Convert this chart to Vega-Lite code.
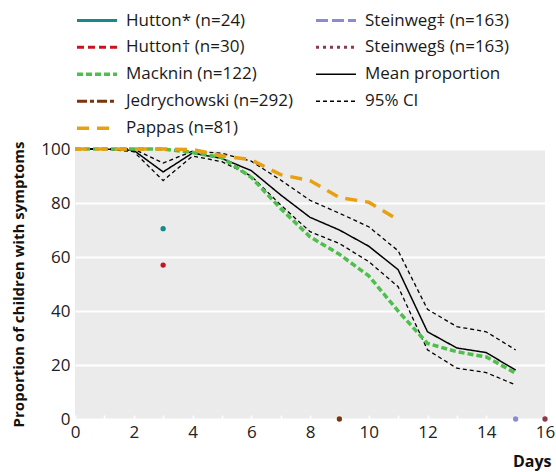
{
  "$schema": "https://vega.github.io/schema/vega-lite/v6.json",
  "width": 470,
  "height": 270,
  "autosize": "none",
  "padding": {"left": 75, "top": 149, "right": 11, "bottom": 53},
  "background": "white",
  "config": {
    "font": "Open Sans",
    "view": {"fill": "#ebebeb", "stroke": null},
    "axis": {"labelFont": "Open Sans", "titleFont": "Open Sans", "labelColor": "#222", "titleColor": "#111"}
  },
  "datasets": {
    "lines": [
      {"s": "Mean proportion", "g": "m", "d": 0, "v": 100},
      {"s": "Mean proportion", "g": "m", "d": 1, "v": 100},
      {"s": "Mean proportion", "g": "m", "d": 2, "v": 99.5},
      {"s": "Mean proportion", "g": "m", "d": 3, "v": 91.5},
      {"s": "Mean proportion", "g": "m", "d": 4, "v": 98.5},
      {"s": "Mean proportion", "g": "m", "d": 5, "v": 96.5},
      {"s": "Mean proportion", "g": "m", "d": 6, "v": 92},
      {"s": "Mean proportion", "g": "m", "d": 7, "v": 83},
      {"s": "Mean proportion", "g": "m", "d": 8, "v": 74.7},
      {"s": "Mean proportion", "g": "m", "d": 9, "v": 70},
      {"s": "Mean proportion", "g": "m", "d": 10, "v": 64},
      {"s": "Mean proportion", "g": "m", "d": 11, "v": 55.3},
      {"s": "Mean proportion", "g": "m", "d": 12, "v": 32.3},
      {"s": "Mean proportion", "g": "m", "d": 13, "v": 26.3},
      {"s": "Mean proportion", "g": "m", "d": 14, "v": 24.6},
      {"s": "Mean proportion", "g": "m", "d": 15, "v": 18.1},
      {"s": "95% CI", "g": "u", "d": 0, "v": 100},
      {"s": "95% CI", "g": "u", "d": 1, "v": 100},
      {"s": "95% CI", "g": "u", "d": 2, "v": 100},
      {"s": "95% CI", "g": "u", "d": 3, "v": 94.8},
      {"s": "95% CI", "g": "u", "d": 4, "v": 99.2},
      {"s": "95% CI", "g": "u", "d": 5, "v": 98.4},
      {"s": "95% CI", "g": "u", "d": 6, "v": 95.5},
      {"s": "95% CI", "g": "u", "d": 7, "v": 88.5},
      {"s": "95% CI", "g": "u", "d": 8, "v": 81},
      {"s": "95% CI", "g": "u", "d": 9, "v": 76.2},
      {"s": "95% CI", "g": "u", "d": 10, "v": 71.2},
      {"s": "95% CI", "g": "u", "d": 11, "v": 62.3},
      {"s": "95% CI", "g": "u", "d": 12, "v": 40.6},
      {"s": "95% CI", "g": "u", "d": 13, "v": 34.2},
      {"s": "95% CI", "g": "u", "d": 14, "v": 32.3},
      {"s": "95% CI", "g": "u", "d": 15, "v": 25.6},
      {"s": "95% CI", "g": "l", "d": 0, "v": 100},
      {"s": "95% CI", "g": "l", "d": 1, "v": 100},
      {"s": "95% CI", "g": "l", "d": 2, "v": 99},
      {"s": "95% CI", "g": "l", "d": 3, "v": 88.3},
      {"s": "95% CI", "g": "l", "d": 4, "v": 97.4},
      {"s": "95% CI", "g": "l", "d": 5, "v": 95.3},
      {"s": "95% CI", "g": "l", "d": 6, "v": 90},
      {"s": "95% CI", "g": "l", "d": 7, "v": 79.3},
      {"s": "95% CI", "g": "l", "d": 8, "v": 69.4},
      {"s": "95% CI", "g": "l", "d": 9, "v": 65},
      {"s": "95% CI", "g": "l", "d": 10, "v": 58.3},
      {"s": "95% CI", "g": "l", "d": 11, "v": 49},
      {"s": "95% CI", "g": "l", "d": 12, "v": 25.6},
      {"s": "95% CI", "g": "l", "d": 13, "v": 18.8},
      {"s": "95% CI", "g": "l", "d": 14, "v": 17.2},
      {"s": "95% CI", "g": "l", "d": 15, "v": 12.6},
      {"s": "Macknin (n=122)", "g": "k", "d": 0, "v": 100},
      {"s": "Macknin (n=122)", "g": "k", "d": 1, "v": 100},
      {"s": "Macknin (n=122)", "g": "k", "d": 2, "v": 100},
      {"s": "Macknin (n=122)", "g": "k", "d": 3, "v": 100},
      {"s": "Macknin (n=122)", "g": "k", "d": 4, "v": 98.7},
      {"s": "Macknin (n=122)", "g": "k", "d": 5, "v": 96.8},
      {"s": "Macknin (n=122)", "g": "k", "d": 6, "v": 89.5},
      {"s": "Macknin (n=122)", "g": "k", "d": 7, "v": 78},
      {"s": "Macknin (n=122)", "g": "k", "d": 8, "v": 67.5},
      {"s": "Macknin (n=122)", "g": "k", "d": 9, "v": 61},
      {"s": "Macknin (n=122)", "g": "k", "d": 10, "v": 53},
      {"s": "Macknin (n=122)", "g": "k", "d": 11, "v": 40},
      {"s": "Macknin (n=122)", "g": "k", "d": 12, "v": 28},
      {"s": "Macknin (n=122)", "g": "k", "d": 13, "v": 24.9},
      {"s": "Macknin (n=122)", "g": "k", "d": 14, "v": 23},
      {"s": "Macknin (n=122)", "g": "k", "d": 15, "v": 17},
      {"s": "Pappas (n=81)", "g": "p", "d": 0, "v": 100},
      {"s": "Pappas (n=81)", "g": "p", "d": 1, "v": 100},
      {"s": "Pappas (n=81)", "g": "p", "d": 2, "v": 100},
      {"s": "Pappas (n=81)", "g": "p", "d": 3, "v": 100},
      {"s": "Pappas (n=81)", "g": "p", "d": 4, "v": 99.8},
      {"s": "Pappas (n=81)", "g": "p", "d": 5, "v": 97.5},
      {"s": "Pappas (n=81)", "g": "p", "d": 6, "v": 96},
      {"s": "Pappas (n=81)", "g": "p", "d": 7, "v": 90.5},
      {"s": "Pappas (n=81)", "g": "p", "d": 8, "v": 88.3},
      {"s": "Pappas (n=81)", "g": "p", "d": 9, "v": 82},
      {"s": "Pappas (n=81)", "g": "p", "d": 10, "v": 80.3},
      {"s": "Pappas (n=81)", "g": "p", "d": 11, "v": 73.8}
    ],
    "points": [
      {"s": "Hutton* (n=24)", "d": 3, "v": 70.5},
      {"s": "Hutton† (n=30)", "d": 3, "v": 57},
      {"s": "Jedrychowski (n=292)", "d": 9, "v": 0},
      {"s": "Steinweg‡ (n=163)", "d": 15, "v": 0},
      {"s": "Steinweg§ (n=163)", "d": 16, "v": 0}
    ]
  },
  "encoding": {
    "x": {
      "field": "d", "type": "quantitative",
      "scale": {"domain": [0, 16], "nice": false},
      "axis": {
        "values": [0,1,2,3,4,5,6,7,8,9,10,11,12,13,14,15,16],
        "labelExpr": "datum.value % 2 === 0 ? datum.label : ''",
        "grid": false, "domain": false,
        "tickColor": "white", "tickSize": -4, "tickWidth": 1.5,
        "labelFontSize": 17, "labelPadding": 9, "labelFlush": false,
        "title": "Days", "titleFontSize": 16, "titleFontWeight": "bold",
        "titleAnchor": "end", "titleAlign": "right", "titleBaseline": "alphabetic", "titleX": 476, "titleY": 47
      }
    },
    "y": {
      "field": "v", "type": "quantitative",
      "scale": {"domain": [0, 100], "nice": false},
      "axis": {
        "values": [0, 20, 40, 60, 80, 100],
        "grid": true, "gridColor": "white", "gridWidth": 2,
        "domain": false, "ticks": false,
        "labelFontSize": 17, "labelPadding": 5, "labelFlush": false,
        "title": "Proportion of children with symptoms", "titleFontSize": 15, "titleFontWeight": "bold",
        "titlePadding": 14
      }
    }
  },
  "layer": [
    {
      "data": {"name": "lines"},
      "mark": {"type": "line", "strokeCap": "butt"},
      "encoding": {
        "detail": {"field": "g"},
        "color": {
          "field": "s", "type": "nominal",
          "scale": {
            "domain": ["Hutton* (n=24)", "Hutton† (n=30)", "Macknin (n=122)", "Jedrychowski (n=292)", "Pappas (n=81)", "Steinweg‡ (n=163)", "Steinweg§ (n=163)", "Mean proportion", "95% CI"],
            "range": ["#168a88", "#c8141e", "#4dbf4a", "#7a3510", "#e8a010", "#8a8ad6", "#8c3a4a", "#000000", "#000000"]
          },
          "legend": {
            "title": null, "orient": "none", "legendX": 0, "legendY": -142,
            "columns": 2, "columnPadding": 20, "rowPadding": 0, "clipHeight": 26.5,
            "symbolType": "stroke", "symbolSize": 1600, "labelFontSize": 17, "labelColor": "#1a1a1a",
            "labelOffset": 7, "labelLimit": 300, "padding": 0
          }
        },
        "strokeDash": {
          "field": "s", "type": "nominal",
          "scale": {
            "domain": ["Hutton* (n=24)", "Hutton† (n=30)", "Macknin (n=122)", "Jedrychowski (n=292)", "Pappas (n=81)", "Steinweg‡ (n=163)", "Steinweg§ (n=163)", "Mean proportion", "95% CI"],
            "range": [[1, 0], [7, 4], [6, 3], [10, 3, 4, 3], [12, 8], [12, 4], [3, 4], [1, 0], [4, 3]]
          },
          "legend": {
            "title": null, "orient": "none", "legendX": 0, "legendY": -142,
            "columns": 2, "columnPadding": 20, "rowPadding": 0, "clipHeight": 26.5,
            "symbolType": "stroke", "symbolSize": 1600, "labelFontSize": 17, "labelColor": "#1a1a1a",
            "labelOffset": 7, "labelLimit": 300, "padding": 0
          }
        },
        "strokeWidth": {
          "field": "s", "type": "nominal",
          "scale": {
            "type": "ordinal",
            "domain": ["Hutton* (n=24)", "Hutton† (n=30)", "Macknin (n=122)", "Jedrychowski (n=292)", "Pappas (n=81)", "Steinweg‡ (n=163)", "Steinweg§ (n=163)", "Mean proportion", "95% CI"],
            "range": [3, 3, 3.5, 3, 3.5, 3, 3, 1.5, 1.3]
          },
          "legend": {
            "title": null, "orient": "none", "legendX": 0, "legendY": -142,
            "columns": 2, "columnPadding": 20, "rowPadding": 0, "clipHeight": 26.5,
            "symbolType": "stroke", "symbolSize": 1600, "labelFontSize": 17, "labelColor": "#1a1a1a",
            "labelOffset": 7, "labelLimit": 300, "padding": 0
          }
        }
      }
    },
    {
      "data": {"name": "points"},
      "mark": {"type": "circle", "size": 28, "opacity": 1, "clip": false},
      "encoding": {
        "color": {"field": "s", "type": "nominal", "legend": null}
      }
    }
  ]
}
